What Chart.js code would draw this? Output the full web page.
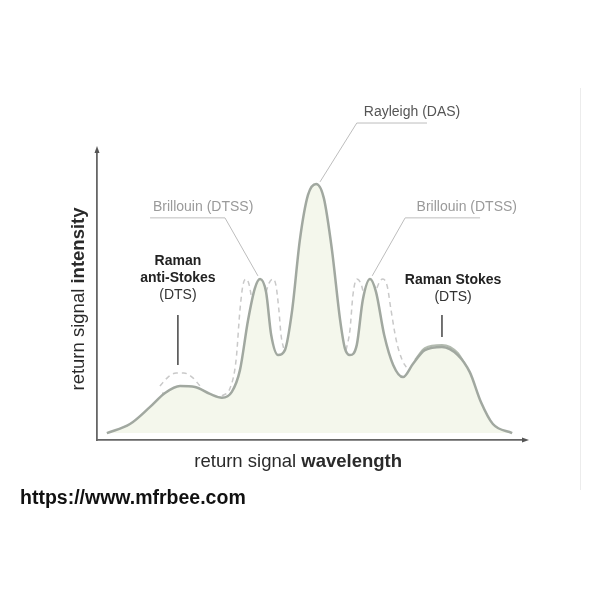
<!DOCTYPE html>
<html>
<head>
<meta charset="utf-8">
<script src="https://cdn.jsdelivr.net/npm/chart.js@4"></script>
<style>
  html, body { margin: 0; padding: 0; background: #fff; }
  #wrap { width: 600px; height: 600px; }
</style>
</head>
<body>
<div id="wrap"><canvas id="grafico" width="600" height="600"></canvas></div>
<script>
// wavelength positions (arbitrary units, 0..100) and return signal intensity (0..100)
const waveX = [2.3, 7.7, 12.4, 15.9, 19.4, 22.9, 26.4, 29.2, 31.5, 33.4, 35.3, 36.9, 38.1, 39.5, 40.7, 42.3,
  43.9, 45.6, 47.4, 49.3, 51.2, 53.0, 54.9, 56.8, 57.9, 59.1, 60.7, 62.1, 63.8, 65.2, 67.1, 69.2,
  71.5, 73.8, 76.6, 80.6, 84.3, 87.1, 89.7, 92.5, 97.0];
const mainSignal = [2.4, 5.5, 11.4, 16.2, 18.6, 18.3, 15.9, 14.6, 16.6, 24.1, 41.4, 52.4, 55.5, 51.0, 36.2, 29.3,
  31.0, 44.8, 69.0, 84.5, 88.3, 83.4, 65.5, 41.4, 31.7, 29.3, 32.8, 48.3, 55.5, 51.0, 36.2, 25.9,
  21.7, 26.2, 31.0, 32.1, 29.3, 23.4, 13.1, 5.5, 2.4];

// shifted Brillouin peaks (dashed)
const brilLeftAX = [29.2, 31.1, 32.5, 33.4, 34.1, 34.8, 35.5, 36.2];
const brilLeftAY = [15.2, 17.9, 27.6, 44.8, 53.4, 55.5, 53.8, 48.3];
const brilLeftBX = [39.5, 40.2, 41.1, 41.8, 42.5, 43.0, 43.7];
const brilLeftBY = [51.0, 54.1, 55.5, 53.4, 44.8, 36.2, 31.0];
const brilRightAX = [58.2, 59.1, 59.8, 60.7, 61.7, 62.4];
const brilRightAY = [31.0, 37.9, 50.0, 55.5, 53.8, 49.7];
const brilRightBX = [65.4, 66.1, 66.8, 67.8, 68.7, 69.9, 71.3, 72.4];
const brilRightBY = [52.4, 54.8, 55.5, 53.1, 44.8, 34.5, 27.6, 24.8];

// shifted anti-Stokes humps (dashed)
const antiHighX = [14.7, 16.6, 18.5, 20.3, 22.2, 24.1];
const antiHighY = [18.6, 21.7, 23.1, 23.1, 21.7, 18.6];
const antiLowX = [15.2, 17.1, 19.4, 21.7, 24.1, 26.4];
const antiLowY = [16.2, 15.5, 15.2, 15.2, 15.2, 15.5];

// Stokes band (second trace on the Stokes hump)
const stokesX = [74.3, 76.6, 80.6, 84.3, 86.7];
const stokesY = [27.6, 31.7, 32.8, 30.0, 24.1];

function pares(xs, ys) {
    return xs.map((x, i) => ({ x: x, y: ys[i] }));
}

const corLinha = '#a1a8a0';
const corTracejada = '#c9c9c9';
const fonte = '"Liberation Sans", Arial, sans-serif';

function tracejada(xs, ys) {
    return {
        data: pares(xs, ys),
        borderColor: corTracejada,
        borderWidth: 1.5,
        borderDash: [5, 4],
        pointRadius: 0,
        fill: false,
        cubicInterpolationMode: 'monotone'
    };
}

// labels in data units
const rotulos = [
    { text: 'Rayleigh (DAS)', x: 73.6, y: 113.1, color: '#555', bold: false },
    { text: 'Brillouin (DTSS)', x: 24.8, y: 80.3, color: '#9a9a9a', bold: false },
    { text: 'Brillouin (DTSS)', x: 86.4, y: 80.3, color: '#9a9a9a', bold: false },
    { text: 'Raman', x: 18.9, y: 61.7, color: '#222', bold: true },
    { text: 'anti-Stokes', x: 18.9, y: 55.9, color: '#222', bold: true },
    { text: '(DTS)', x: 18.9, y: 50.0, color: '#333', bold: false },
    { text: 'Raman Stokes', x: 83.2, y: 55.2, color: '#222', bold: true },
    { text: '(DTS)', x: 83.2, y: 49.3, color: '#333', bold: false }
];
const guias = [
    { pts: [[77.1, 109.3], [60.7, 109.3], [52.1, 89.0]], color: '#bdbdbd', width: 1 },
    { pts: [[12.4, 76.6], [29.9, 76.6], [37.6, 56.6]], color: '#bdbdbd', width: 1 },
    { pts: [[89.5, 76.6], [72.0, 76.6], [64.3, 56.6]], color: '#bdbdbd', width: 1 },
    { pts: [[18.9, 43.1], [18.9, 25.9]], color: '#444', width: 1.5 },
    { pts: [[80.6, 43.1], [80.6, 35.5]], color: '#444', width: 1.5 }
];

const desenhos = {
    id: 'desenhos',
    afterDraw(chart) {
        const ctx = chart.ctx;
        const sx = chart.scales.x, sy = chart.scales.y;
        const a = chart.chartArea;
        ctx.save();

        // leader lines
        guias.forEach(g => {
            ctx.beginPath();
            g.pts.forEach((p, i) => {
                const px = sx.getPixelForValue(p[0]), py = sy.getPixelForValue(p[1]);
                if (i === 0) ctx.moveTo(px, py); else ctx.lineTo(px, py);
            });
            ctx.strokeStyle = g.color;
            ctx.lineWidth = g.width;
            ctx.stroke();
        });

        // labels
        ctx.textAlign = 'center';
        ctx.textBaseline = 'middle';
        rotulos.forEach(r => {
            ctx.font = (r.bold ? 'bold ' : '') + '14px ' + fonte;
            ctx.fillStyle = r.color;
            ctx.fillText(r.text, sx.getPixelForValue(r.x), sy.getPixelForValue(r.y));
        });

        // axis arrows
        ctx.fillStyle = '#555';
        ctx.beginPath();
        ctx.moveTo(a.left, a.top - 4);
        ctx.lineTo(a.left - 2.5, a.top + 3);
        ctx.lineTo(a.left + 2.5, a.top + 3);
        ctx.closePath();
        ctx.fill();
        ctx.beginPath();
        ctx.moveTo(a.right + 4, a.bottom);
        ctx.lineTo(a.right - 3, a.bottom - 2.5);
        ctx.lineTo(a.right - 3, a.bottom + 2.5);
        ctx.closePath();
        ctx.fill();

        // axis titles with bold last word
        function misto(partes, cx, cy) {
            let total = 0;
            partes.forEach(p => {
                ctx.font = (p.bold ? 'bold ' : '') + '18.5px ' + fonte;
                p.w = ctx.measureText(p.t).width;
                total += p.w;
            });
            let x = cx - total / 2;
            ctx.textAlign = 'left';
            partes.forEach(p => {
                ctx.font = (p.bold ? 'bold ' : '') + '18.5px ' + fonte;
                ctx.fillText(p.t, x, cy);
                x += p.w;
            });
        }
        ctx.fillStyle = '#2a2a2a';
        ctx.textBaseline = 'middle';
        misto([{ t: 'return signal ', bold: false }, { t: 'wavelength', bold: true }],
            sx.getPixelForValue(47), a.bottom + 22);
        ctx.save();
        ctx.translate(a.left - 18, (a.top + a.bottom) / 2 + 4);
        ctx.rotate(-Math.PI / 2);
        misto([{ t: 'return signal ', bold: false }, { t: 'intensity', bold: true }], 0, 0);
        ctx.restore();

        // frame edge on the right and source text
        ctx.strokeStyle = '#ececec';
        ctx.lineWidth = 1;
        ctx.beginPath();
        ctx.moveTo(580.5, 88);
        ctx.lineTo(580.5, 490);
        ctx.stroke();

        ctx.fillStyle = '#111';
        ctx.textAlign = 'left';
        ctx.font = 'bold 19.5px ' + fonte;
        ctx.fillText('https://www.mfrbee.com', 20, 499);
        ctx.restore();
    }
};

const configuracao = {
    type: 'line',
    data: {
        datasets: [
            {
                data: pares(waveX, mainSignal),
                borderColor: corLinha,
                borderWidth: 2.5,
                backgroundColor: '#f4f7ec',
                pointRadius: 0,
                fill: { value: 2.4 },
                cubicInterpolationMode: 'monotone'
            },
            tracejada(brilLeftAX, brilLeftAY),
            tracejada(brilLeftBX, brilLeftBY),
            tracejada(brilRightAX, brilRightAY),
            tracejada(brilRightBX, brilRightBY),
            tracejada(antiHighX, antiHighY),
            tracejada(antiLowX, antiLowY),
            {
                data: pares(stokesX, stokesY),
                borderColor: '#b3bbb0',
                borderWidth: 2,
                pointRadius: 0,
                fill: false,
                cubicInterpolationMode: 'monotone'
            }
        ]
    },
    options: {
        responsive: false,
        animation: false,
        layout: { padding: { left: 97, top: 150, right: 75, bottom: 160 } },
        plugins: { legend: { display: false }, tooltip: { enabled: false } },
        scales: {
            x: {
                type: 'linear', min: 0, max: 100,
                ticks: { display: false },
                grid: { display: false, drawTicks: false },
                border: { display: true, color: '#666', width: 1.8 }
            },
            y: {
                type: 'linear', min: 0, max: 100,
                ticks: { display: false },
                grid: { display: false, drawTicks: false },
                border: { display: true, color: '#666', width: 1.8 }
            }
        }
    },
    plugins: [desenhos]
};

try {
    new Chart(document.getElementById('grafico'), configuracao);
} catch (e) {
    console.log(e);
}
</script>
</body>
</html>
